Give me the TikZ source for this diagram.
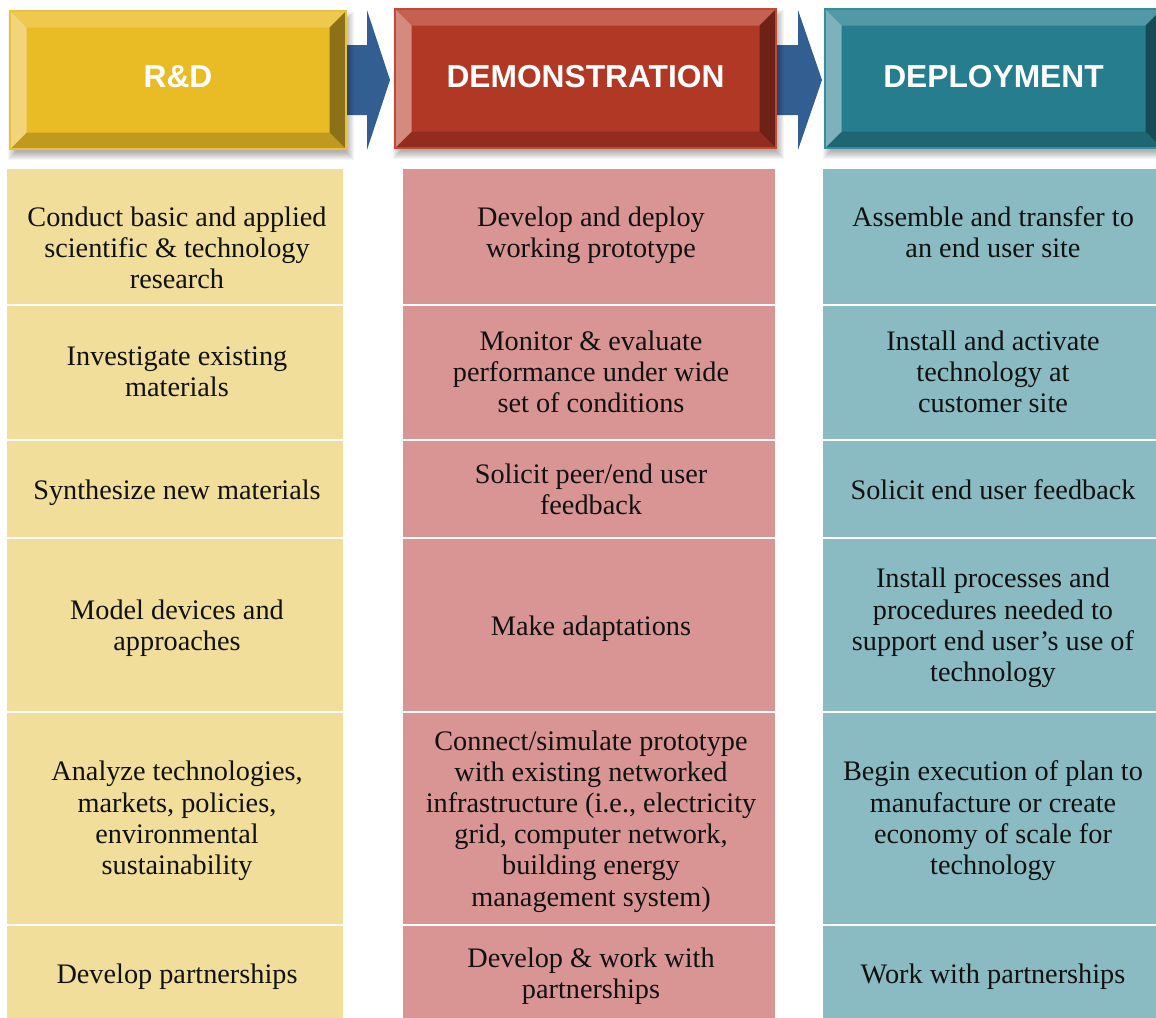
\documentclass[tikz,border=0pt]{standalone}
\usepackage{fontspec}
\setmainfont{Liberation Serif}
\newfontfamily\hdrfont{Liberation Sans}
\usetikzlibrary{calc}

\definecolor{rdTop}{HTML}{EFC84E}
\definecolor{rdLeft}{HTML}{F2D47A}
\definecolor{rdMid}{HTML}{E9BC26}
\definecolor{rdRight}{HTML}{8C7118}
\definecolor{rdBot}{HTML}{C09A1F}
\definecolor{rdBorder}{HTML}{E8C23C}

\definecolor{dmTop}{HTML}{C56150}
\definecolor{dmLeft}{HTML}{D48A7D}
\definecolor{dmMid}{HTML}{B03824}
\definecolor{dmRight}{HTML}{6E2117}
\definecolor{dmBot}{HTML}{922C1E}
\definecolor{dmBorder}{HTML}{C04A36}

\definecolor{dpTop}{HTML}{5299A7}
\definecolor{dpLeft}{HTML}{7DB1BB}
\definecolor{dpMid}{HTML}{267D8D}
\definecolor{dpRight}{HTML}{164B55}
\definecolor{dpBot}{HTML}{1F6673}
\definecolor{dpBorder}{HTML}{3A8D9C}

\definecolor{arrowblue}{HTML}{335E92}
\definecolor{cellyellow}{HTML}{F0DE9A}
\definecolor{cellpink}{HTML}{D99594}
\definecolor{cellteal}{HTML}{8ABBC3}
\definecolor{txt}{HTML}{111111}

\tikzset{
  hdrtext/.style={font=\hdrfont\bfseries\fontsize{23.8}{28}\selectfont, text=white,
    inner sep=0pt, text height=17pt, text depth=0pt},
  cellbox/.style={inner sep=0pt, outer sep=0pt, draw=none},
  celltext/.style={font=\fontsize{21.2}{23.4}\selectfont, text=txt, align=center,
    inner sep=0pt, execute at begin node=\strut, execute at end node=\strut},
  flowarrow/.style={fill=arrowblue},
  softshadow/.style={fill=black, opacity=0.04},
}

% #1 name, #2 x1, #3 y1, #4 x2, #5 y2, #6 colour prefix, #7 text
\newcommand\hdrbox[7]{%
  \foreach \s in {0,1,...,8}{%
    \fill[softshadow] (#2+6-\s,#3+9-\s) rectangle (#4+\s,#5+3+\s);}
  \fill[#6Mid] (#2,#3) rectangle (#4,#5);
  \fill[#6Top] (#2,#3) -- (#4,#3) -- (#4-16.5,#3+16.5) -- (#2+16.5,#3+16.5) -- cycle;
  \fill[#6Bot] (#2,#5) -- (#4,#5) -- (#4-16.5,#5-16.5) -- (#2+16.5,#5-16.5) -- cycle;
  \fill[#6Left] (#2,#3) -- (#2+16.5,#3+16.5) -- (#2+16.5,#5-16.5) -- (#2,#5) -- cycle;
  \fill[#6Right] (#4,#3) -- (#4-16.5,#3+16.5) -- (#4-16.5,#5-16.5) -- (#4,#5) -- cycle;
  \draw[#6Border, line width=1.1pt] (#2,#3) rectangle (#4,#5);
  \node[hdrtext] (#1) at ({(#2+#4)/2},76.5) {#7};
}

% #1 name, #2 x1, #3 y1, #4 x2, #5 y2, #6 fill, #7 text x, #8 text y, #9 text
\newcommand\tabcell[9]{%
  \node[cellbox, fill=#6, minimum width={(#4-#2)*0.75pt}, minimum height={(#5-#3)*0.75pt}]
    (#1) at ({(#2+#4)/2},{(#3+#5)/2}) {};
  \node[celltext] (#1t) at (#7,#8+4) {#9};
}

% #1 shaft start x, #2 head base x, #3 tip x
\newcommand\flowarrowshape[3]{%
  \fill[flowarrow] (#1,45) -- (#2,45) -- (#2,10) -- (#3,80) -- (#2,150) -- (#2,115) -- (#1,115) -- cycle;
}

\begin{document}
\begin{tikzpicture}[x=0.75pt, y=-0.75pt]
\useasboundingbox (0,0) rectangle (1156,1017);
\clip (0,0) rectangle (1156,1017);

% arrows between stages
\flowarrowshape{340}{367}{390}
\flowarrowshape{770}{798}{822}

% stage headers
\hdrbox{rd}{10}{11}{346}{149}{rd}{R\&D}
\hdrbox{dm}{395}{9}{776}{148}{dm}{DEMONSTRATION}
\hdrbox{dp}{825}{9}{1162}{148}{dp}{DEPLOYMENT}

% column 1: R&D
\tabcell{a1}{7}{169}{343}{304}{cellyellow}{177}{248.5}{Conduct basic and applied\\scientific \& technology\\research}
\tabcell{a2}{7}{306}{343}{439}{cellyellow}{177}{372.5}{Investigate existing\\materials}
\tabcell{a3}{7}{441}{343}{537}{cellyellow}{177}{489}{Synthesize new materials}
\tabcell{a4}{7}{539}{343}{711}{cellyellow}{177}{625.5}{Model devices and\\approaches}
\tabcell{a5}{7}{713}{343}{924}{cellyellow}{177}{818.5}{Analyze technologies,\\markets, policies,\\environmental\\sustainability}
\tabcell{a6}{7}{926}{343}{1020}{cellyellow}{177}{973}{Develop partnerships}

% column 2: Demonstration
\tabcell{b1}{403}{169}{775}{304}{cellpink}{591}{232.5}{Develop and deploy\\working prototype}
\tabcell{b2}{403}{306}{775}{439}{cellpink}{591}{372.5}{Monitor \& evaluate\\performance under wide\\set of conditions}
\tabcell{b3}{403}{441}{775}{537}{cellpink}{591}{489.5}{Solicit peer/end user\\feedback}
\tabcell{b4}{403}{539}{775}{711}{cellpink}{591}{625.5}{Make adaptations}
\tabcell{b5}{403}{713}{775}{924}{cellpink}{591}{819}{Connect/simulate prototype\\with existing networked\\infrastructure (i.e., electricity\\grid, computer network,\\building energy\\management system)}
\tabcell{b6}{403}{926}{775}{1020}{cellpink}{591}{973.5}{Develop \& work with\\partnerships}

% column 3: Deployment
\tabcell{c1}{823}{169}{1162}{304}{cellteal}{993}{232.5}{Assemble and transfer to\\an end user site}
\tabcell{c2}{823}{306}{1162}{439}{cellteal}{993}{372.5}{Install and activate\\technology at\\customer site}
\tabcell{c3}{823}{441}{1162}{537}{cellteal}{993}{489}{Solicit end user feedback}
\tabcell{c4}{823}{539}{1162}{711}{cellteal}{993}{625.5}{Install processes and\\procedures needed to\\support end user’s use of\\technology}
\tabcell{c5}{823}{713}{1162}{924}{cellteal}{993}{818.5}{Begin execution of plan to\\manufacture or create\\economy of scale for\\technology}
\tabcell{c6}{823}{926}{1162}{1020}{cellteal}{993}{973}{Work with partnerships}
\end{tikzpicture}
\end{document}
